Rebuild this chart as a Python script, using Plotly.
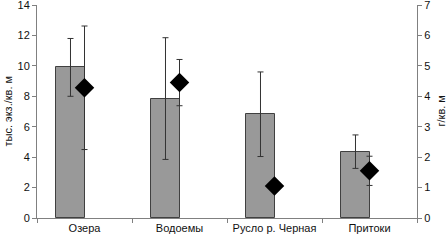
import plotly.graph_objects as go

categories = ["Озера", "Водоемы", "Русло р. Черная", "Притоки"]
density = [9.9, 7.85, 6.82, 4.36]          # тыс. экз./кв. м (left axis)
density_err = [1.9, 4.0, 2.78, 1.1]
biomass = [4.28, 4.45, 1.05, 1.55]          # г/кв. м (right axis)
biomass_err = [2.03, 0.76, 0.0, 0.48]

left_ticks = [0, 2, 4, 6, 8, 10, 12, 14]
right_ticks = [0, 1, 2, 3, 4, 5, 6, 7]

left_title = "тыс. экз./кв. м"
right_title = "г/кв. м"

font_family = "Liberation Sans, Arial, sans-serif"
text_color = "#111111"

fig = go.Figure()
fig.add_trace(go.Bar(
    x=categories, y=density,
    width=0.295, offset=-0.295,
    marker=dict(color="#999999", line=dict(color="#404040", width=1)),
    error_y=dict(type="data", array=density_err, color="#333333", thickness=1, width=3),
    yaxis="y", showlegend=False,
))
fig.add_trace(go.Scatter(
    x=categories, y=biomass, mode="markers",
    marker=dict(symbol="diamond", size=15, color="black"),
    error_y=dict(type="data", array=biomass_err, color="#333333", thickness=1, width=3),
    yaxis="y2", showlegend=False,
))

axis_common = dict(
    showgrid=False, zeroline=False, showline=True, linecolor="#808080", linewidth=1,
    ticks="outside", ticklen=4, tickcolor="#808080", automargin=False,
    ticklabeloverflow="allow",
    tickfont=dict(family=font_family, size=11, color=text_color),
)

fig.update_layout(
    width=446, height=240,
    margin=dict(l=37, r=29, t=5, b=22),
    paper_bgcolor="white", plot_bgcolor="white",
    bargap=0,
    xaxis=dict(
        type="category", tickson="boundaries", range=[-0.5, 3.5],
        **axis_common,
    ),
    yaxis=dict(range=[0, 14], tickmode="array", tickvals=left_ticks, **axis_common),
    yaxis2=dict(range=[0, 7], tickmode="array", tickvals=right_ticks,
                overlaying="y", side="right", **axis_common),
    annotations=[
        dict(text=left_title, textangle=-90, xref="paper", yref="paper",
             x=0, y=0.5, xanchor="center", yanchor="middle", xshift=-30,
             showarrow=False, font=dict(family=font_family, size=11, color=text_color)),
        dict(text=right_title, textangle=-90, xref="paper", yref="paper",
             x=1, y=0.5, xanchor="center", yanchor="middle", xshift=23,
             showarrow=False, font=dict(family=font_family, size=11, color=text_color)),
    ],
)

fig.write_html("out.html", config={"displayModeBar": False},
               post_script="document.body.style.margin='0';")
